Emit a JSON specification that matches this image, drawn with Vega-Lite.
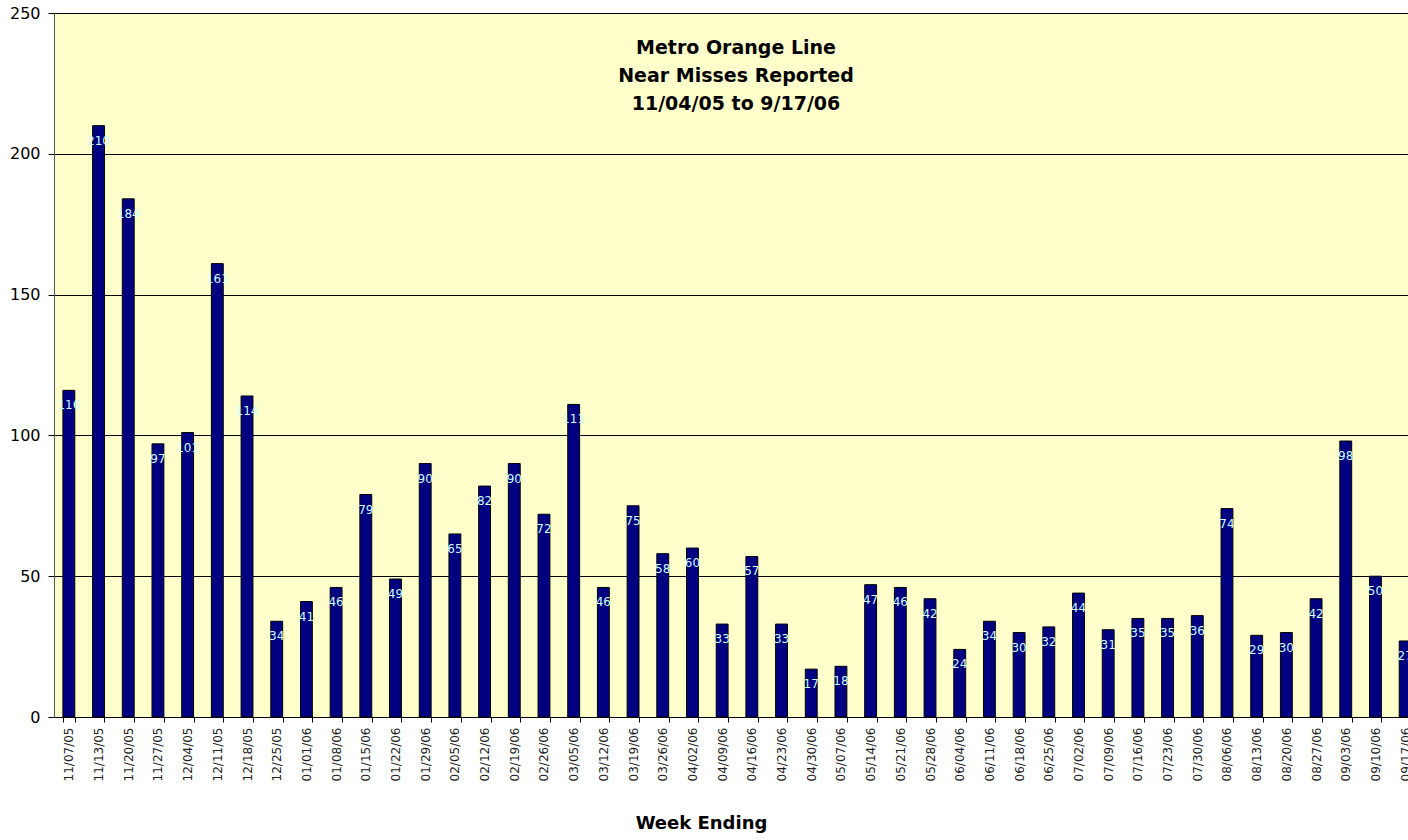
{
  "$schema": "https://vega.github.io/schema/vega-lite/v6.json",
  "width": 1354,
  "height": 704,
  "autosize": {"type": "none"},
  "padding": {"left": 54, "top": 13, "right": 0, "bottom": 123},
  "background": "white",
  "config": {
    "view": {"fill": "#FFFFCC", "stroke": null},
    "font": "DejaVu Sans"
  },
  "title": {
    "text": ["Metro Orange Line", "Near Misses Reported", "\u2002\u2009\u200b11/04/05 to 9/17/06"],
    "font": "DejaVu Sans",
    "fontSize": 19,
    "fontWeight": "bold",
    "color": "#000000",
    "anchor": "middle",
    "frame": "group",
    "baseline": "top",
    "lineHeight": 28,
    "offset": -109,
    "dx": 5
  },
  "data": {
    "values": [
      {"week": "11/07/05", "value": 116},
      {"week": "11/13/05", "value": 210},
      {"week": "11/20/05", "value": 184},
      {"week": "11/27/05", "value": 97},
      {"week": "12/04/05", "value": 101},
      {"week": "12/11/05", "value": 161},
      {"week": "12/18/05", "value": 114},
      {"week": "12/25/05", "value": 34},
      {"week": "01/01/06", "value": 41},
      {"week": "01/08/06", "value": 46},
      {"week": "01/15/06", "value": 79},
      {"week": "01/22/06", "value": 49},
      {"week": "01/29/06", "value": 90},
      {"week": "02/05/06", "value": 65},
      {"week": "02/12/06", "value": 82},
      {"week": "02/19/06", "value": 90},
      {"week": "02/26/06", "value": 72},
      {"week": "03/05/06", "value": 111},
      {"week": "03/12/06", "value": 46},
      {"week": "03/19/06", "value": 75},
      {"week": "03/26/06", "value": 58},
      {"week": "04/02/06", "value": 60},
      {"week": "04/09/06", "value": 33},
      {"week": "04/16/06", "value": 57},
      {"week": "04/23/06", "value": 33},
      {"week": "04/30/06", "value": 17},
      {"week": "05/07/06", "value": 18},
      {"week": "05/14/06", "value": 47},
      {"week": "05/21/06", "value": 46},
      {"week": "05/28/06", "value": 42},
      {"week": "06/04/06", "value": 24},
      {"week": "06/11/06", "value": 34},
      {"week": "06/18/06", "value": 30},
      {"week": "06/25/06", "value": 32},
      {"week": "07/02/06", "value": 44},
      {"week": "07/09/06", "value": 31},
      {"week": "07/16/06", "value": 35},
      {"week": "07/23/06", "value": 35},
      {"week": "07/30/06", "value": 36},
      {"week": "08/06/06", "value": 74},
      {"week": "08/13/06", "value": 29},
      {"week": "08/20/06", "value": 30},
      {"week": "08/27/06", "value": 42},
      {"week": "09/03/06", "value": 98},
      {"week": "09/10/06", "value": 50},
      {"week": "09/17/06", "value": 27}
    ]
  },
  "encoding": {
    "x": {
      "field": "week",
      "type": "nominal",
      "sort": null,
      "scale": {"range": [0, 1366], "paddingInner": 0.6, "paddingOuter": 0.3},
      "axis": {
        "title": "Week Ending",
        "titleFont": "DejaVu Sans",
        "titleFontSize": 18,
        "titleFontWeight": "bold",
        "titleColor": "#000000",
        "titleX": 647,
        "titleY": 111,
        "titleBaseline": "alphabetic",
        "titleAnchor": "middle",
        "labelAngle": 270,
        "labelFontSize": 12,
        "labelColor": "#222222",
        "labelPadding": 5,
        "tickSize": 5,
        "tickBand": "extent",
        "tickColor": "#000000",
        "domainColor": "#000000",
        "labelOverlap": false
      }
    },
    "y": {
      "field": "value",
      "type": "quantitative",
      "scale": {"domain": [0, 250], "nice": false},
      "axis": {
        "title": null,
        "values": [0, 50, 100, 150, 200, 250],
        "labelFontSize": 16,
        "labelColor": "#000000",
        "labelPadding": 8,
        "tickSize": 6,
        "tickColor": "#000000",
        "domainColor": "#555555",
        "grid": true,
        "gridColor": "#000000",
        "gridOpacity": 1,
        "gridWidth": 1
      }
    }
  },
  "layer": [
    {
      "mark": {"type": "bar", "fill": "#000080", "stroke": "#000000", "strokeWidth": 1}
    },
    {
      "mark": {"type": "text", "color": "#CCFFFF", "fontSize": 12, "baseline": "middle", "align": "center", "dy": 15},
      "encoding": {"text": {"field": "value", "type": "quantitative"}}
    }
  ]
}
